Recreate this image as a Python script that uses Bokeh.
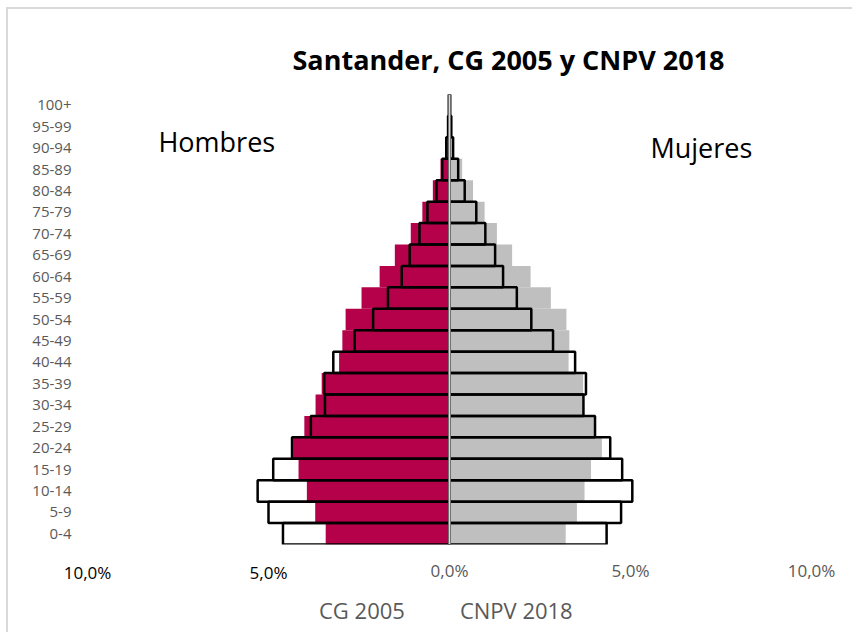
from bokeh.plotting import figure
from bokeh.layouts import column
from bokeh.models import (Range1d, FixedTicker, Span, Label, Legend, LegendItem, LinearAxis,
                          CDSView, IndexFilter)
from bokeh.embed import file_html
from bokeh.resources import INLINE

# ---- data (percent of total population) ----
ages = ["0-4", "5-9", "10-14", "15-19", "20-24", "25-29", "30-34", "35-39",
        "40-44", "45-49", "50-54", "55-59", "60-64", "65-69", "70-74", "75-79",
        "80-84", "85-89", "90-94", "95-99", "100+"]
men_2005 = [4.60, 5.00, 5.30, 4.87, 4.35, 3.83, 3.44, 3.46, 3.21, 2.62, 2.11,
            1.70, 1.32, 1.10, 0.83, 0.61, 0.36, 0.20, 0.09, 0.04, 0.02]
men_2018 = [3.42, 3.71, 3.94, 4.17, 4.32, 4.01, 3.70, 3.53, 3.05, 2.96, 2.87,
            2.43, 1.93, 1.51, 1.07, 0.75, 0.46, 0.25, 0.09, 0.03, 0.01]
women_2005 = [4.34, 4.74, 5.05, 4.77, 4.44, 4.02, 3.70, 3.77, 3.47, 2.86, 2.26,
              1.86, 1.48, 1.26, 0.99, 0.74, 0.42, 0.24, 0.10, 0.05, 0.02]
women_2018 = [3.21, 3.52, 3.73, 3.91, 4.21, 3.99, 3.68, 3.69, 3.29, 3.31, 3.23,
              2.80, 2.24, 1.73, 1.31, 0.97, 0.65, 0.35, 0.12, 0.04, 0.01]
x_ticks = [0, 5, 10]
x_tick_labels = ["0,0%", "5,0%", "10,0%"]
x_ticks_left = [-10, -5]
x_tick_labels_left = ["10,0%", "5,0%"]
title_text = "Santander, CG 2005 y CNPV 2018"
series_names = ["CG 2005", "CNPV 2018"]

FONT = "Open Sans"
RED = "#B5004A"
GRAY = "#BFBFBF"
TXT = "#595959"

idx = list(range(len(ages)))
neg = lambda a: [-v for v in a]

p1 = figure(width=852, height=588, output_backend="svg", toolbar_location=None,
            x_range=Range1d(-10, 10), y_range=Range1d(-0.5, 20.5),
            min_border_left=87, min_border_right=41, min_border_top=94, min_border_bottom=44)
p1.xaxis.visible = False
p1.yaxis.visible = False
p1.grid.visible = False
p1.outline_line_color = None
p1.border_fill_alpha = 0

# title
p1.title.text = title_text
p1.title.text_font = FONT
p1.title.text_font_size = "27px"
p1.title.text_font_style = "bold"
p1.title.text_color = "black"
p1.title.align = "left"
p1.title.offset = 205
p1.title.standoff = 34

# axes
yax = LinearAxis(ticker=FixedTicker(ticks=idx),
                 major_label_overrides={i: a for i, a in zip(idx, ages)})
xax = LinearAxis(ticker=FixedTicker(ticks=x_ticks),
                 major_label_overrides={t: l for t, l in zip(x_ticks, x_tick_labels)})
xax2 = LinearAxis(ticker=FixedTicker(ticks=x_ticks_left),
                  major_label_overrides={t: l for t, l in zip(x_ticks_left, x_tick_labels_left)})
for ax in (yax, xax, xax2):
    ax.axis_line_color = None
    ax.major_tick_line_color = None
    ax.minor_tick_line_color = None
    ax.major_tick_out = 0
    ax.major_tick_in = 0
    ax.minor_tick_out = 0
    ax.major_label_text_font = FONT
    ax.major_label_text_color = TXT
yax.major_label_text_font_size = "15px"
yax.major_label_standoff = 16
xax.major_label_text_font_size = "17px"
xax.major_label_standoff = 14
xax2.major_label_text_font_size = "17px"
xax2.major_label_text_color = "black"
p1.add_layout(yax, "left")
p1.add_layout(xax, "below")
p1.add_layout(xax2, "below")
xax2.major_label_standoff = -24

# bars
r18m = p1.hbar(y=idx, left=neg(men_2018), right=0, height=1, fill_color=RED, line_color=None)
r18f = p1.hbar(y=idx, left=0, right=women_2018, height=1, fill_color=GRAY, line_color=None)
r05m = p1.hbar(y=idx, left=neg(men_2005), right=0, height=1, fill_color=None,
               line_color="black", line_width=2.5)
r05f = p1.hbar(y=idx, left=0, right=women_2005, height=1, fill_color=None,
               line_color="black", line_width=2.5)
p1.add_layout(Span(location=0, dimension="height", line_color="#D9D9D9", line_width=2))

# side labels
p1.add_layout(Label(x=-8.04, y=18.30, text="Hombres", text_align="left",
                    text_baseline="alphabetic", text_font=FONT, text_font_size="27px",
                    text_color="black"))
p1.add_layout(Label(x=5.55, y=18.03, text="Mujeres", text_align="left",
                    text_baseline="alphabetic", text_font=FONT, text_font_size="27px",
                    text_color="black"))

# legend strip (separate small figure so the legend sits inside a frame);
# its proxy renderers reuse the series but every row is filtered out of view
p2 = figure(width=852, height=44, output_backend="svg", toolbar_location=None,
            x_range=Range1d(-10, 10), y_range=Range1d(-0.5, 20.5),
            x_axis_location=None, y_axis_location=None,
            min_border_left=0, min_border_right=0, min_border_top=0, min_border_bottom=0)
p2.title.visible = False
p2.grid.visible = False
p2.outline_line_color = None
p2.border_fill_alpha = 0
p2.background_fill_alpha = 0
l05 = p2.hbar(y=idx, left=neg(men_2005), right=0, height=1, fill_color=None,
              line_color="black", line_width=2.5,
              view=CDSView(filter=IndexFilter(indices=[])))
l18 = p2.hbar(y=idx, left=neg(men_2018), right=0, height=1, fill_color=RED, line_color=None,
              view=CDSView(filter=IndexFilter(indices=[])))
legend = Legend(items=[LegendItem(label=series_names[0], renderers=[l05]),
                       LegendItem(label=series_names[1], renderers=[l18])],
                orientation="horizontal", location=(210, 7),
                label_text_font=FONT, label_text_font_size="22px", label_text_color=TXT,
                glyph_width=17, glyph_height=17, label_standoff=5, spacing=33,
                border_line_color=None, background_fill_alpha=0, padding=2, margin=0)
p2.add_layout(legend, "center")

layout = column(p1, p2, spacing=0)
layout.styles = {"background": "linear-gradient(#D9D9D9, #D9D9D9) 6px 7px / 2px 100% no-repeat, "
                               "linear-gradient(#D9D9D9, #D9D9D9) 6px 7px / 100% 2px no-repeat"}

open("out.html", "w").write(file_html(layout, INLINE))
